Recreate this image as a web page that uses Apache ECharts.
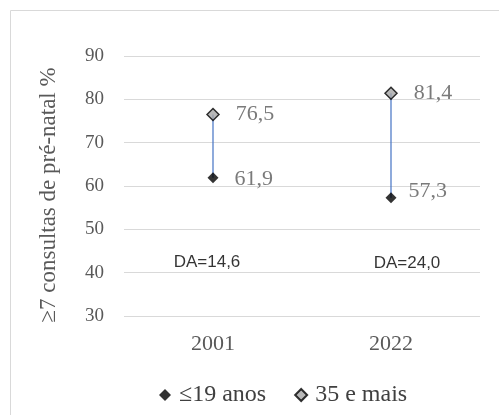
<!DOCTYPE html>
<html><head><meta charset="utf-8">
<script src="https://cdn.jsdelivr.net/npm/echarts@6/dist/echarts.min.js"></script>
<style>html,body{margin:0;padding:0;background:#fff}#c{width:499px;height:415px}</style>
</head><body><div id="c"></div>
<script>
const categories = ['2001', '2022'];
const young = [61.9, 57.3];
const older = [76.5, 81.4];
const daLabels = ['DA=14,6', 'DA=24,0'];
const daLevel = [42.5, 42.1];
const yTicks = [30, 40, 50, 60, 70, 80, 90];

const serif = 'Liberation Serif';
const fmt = v => v.toFixed(1).replace('.', ',');

const lineSeries = categories.map((c, i) => ({
  type: 'line', name: 'range' + i, silent: true,
  data: [[c, young[i]], [c, older[i]]],
  symbol: 'none', lineStyle: { color: '#4472C4', width: 1.2 }, z: 1
}));

const labelStyle = { fontFamily: serif, fontSize: 22, color: '#595959' };
const youngOffsets = [[0, 1], [-4, -6]];

const chart = echarts.init(document.getElementById('c'));
chart.setOption({
  animation: false,
  textStyle: { fontFamily: serif },
  graphic: [{ type: 'rect', shape: { x: 10.5, y: 10.5, width: 520, height: 440 },
    style: { fill: 'none', stroke: '#d9d9d9', lineWidth: 1 } }],
  grid: { left: 124, right: 19, top: 56, bottom: 99 },
  xAxis: { type: 'category', data: categories,
    axisLine: { show: false }, axisTick: { show: false },
    axisLabel: { fontFamily: serif, fontSize: 22, color: '#595959', margin: 17 } },
  yAxis: { type: 'value', min: yTicks[0], max: yTicks[yTicks.length - 1], interval: 10,
    name: '≥7 consultas de pré-natal %', nameLocation: 'middle', nameRotate: 90, nameGap: 64,
    nameTextStyle: { fontFamily: serif, fontSize: 23, color: '#595959', padding: [0, 18, 0, 0] },
    axisLabel: { fontFamily: serif, fontSize: 19, color: '#595959', margin: 20 },
    splitLine: { lineStyle: { color: '#d9d9d9', width: 1 } } },
  legend: { bottom: 3, left: 154, data: ['≤19 anos', '35 e mais'], itemGap: 28, itemWidth: 12, itemHeight: 12,
    textStyle: { fontFamily: serif, fontSize: 24, color: '#404040', padding: [0, 0, 0, 3] } },
  series: [
    ...lineSeries,
    { type: 'scatter', name: '≤19 anos', symbol: 'diamond', symbolSize: 11,
      data: young.map((v, i) => ({ value: v, label: { offset: youngOffsets[i] } })),
      itemStyle: { color: '#000' }, z: 3,
      label: Object.assign({ show: true, position: 'right', distance: 16, formatter: p => fmt(p.value) }, labelStyle) },
    { type: 'scatter', name: '35 e mais', data: older, symbol: 'diamond', symbolSize: 12,
      itemStyle: { color: '#a6a6a6', borderColor: '#000', borderWidth: 1.5 }, z: 3,
      label: Object.assign({ show: true, position: 'right', distance: 16, formatter: p => fmt(p.value) }, labelStyle) },
    { type: 'scatter', name: 'da', silent: true, data: daLevel.map((v, i) => ({ value: v, label: { offset: [i === 0 ? -6 : 16, 0] } })),
      symbolSize: 0,
      label: { show: true, position: 'inside', formatter: p => daLabels[p.dataIndex],
        fontFamily: 'Liberation Sans', fontSize: 17, color: '#000' } }
  ]
});
</script></body></html>
